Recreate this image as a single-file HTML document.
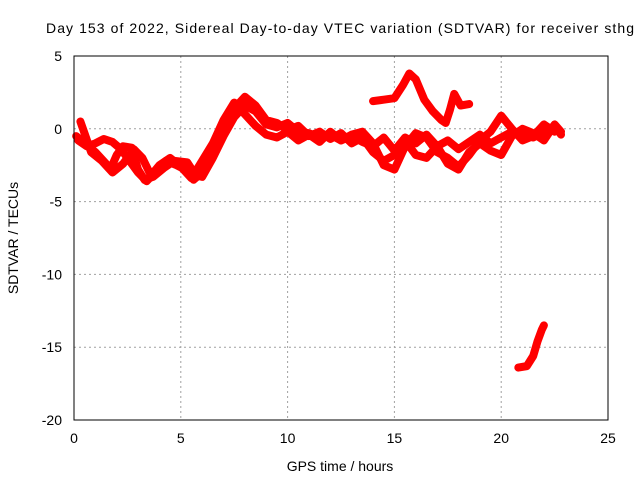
<!DOCTYPE html>
<html><head><meta charset="utf-8"><style>
html,body{margin:0;padding:0;background:#fff}
svg{display:block;font-family:"Liberation Sans",sans-serif}
</style></head><body>
<svg id="chart" width="640" height="480" viewBox="0 0 640 480">
<rect width="640" height="480" fill="#fff"/>
<text x="340" y="33" font-size="14" text-anchor="middle" textLength="588">Day 153 of 2022, Sidereal Day-to-day VTEC variation (SDTVAR) for receiver sthg</text>
<g id="grid"></g>
<g id="series"></g>
<g id="axes"></g>
<text x="18" y="238" font-size="14" text-anchor="middle" transform="rotate(-90 18 238)">SDTVAR / TECUs</text>
<text x="340" y="471" font-size="14" text-anchor="middle">GPS time / hours</text>
</svg>
<script>
const xTicks=[0,5,10,15,20,25];
const yTicks=[5,0,-5,-10,-15,-20];
const track1H=[0.1,0.5,1.0,1.5,1.7,2.0,2.3,2.7,3.0,3.3,3.7,4.2,4.7,5.3,5.7,6.0,6.5,7.0,7.5,8.0,8.5,9.0,9.5,10,10.5,11,11.5,12,12.5,13,13.5,14,14.5,15,15.5,16,16.5,17,17.5,18,18.5,19,19.5,20,20.5,21,21.5,22,22.5,22.8];
const track1V=[-0.5,-1.0,-1.6,-2.4,-2.8,-1.8,-1.2,-1.3,-2.8,-3.5,-3.3,-2.7,-2.2,-2.3,-3.2,-3.3,-2.0,-0.5,0.8,1.6,1.2,0.3,0.1,0.4,-0.2,-0.3,-0.6,-0.4,-0.8,-0.5,-0.9,-1.2,-0.6,-1.5,-0.6,-1.0,-0.4,-1.2,-0.8,-1.4,-0.9,-0.4,-1.0,-0.6,-0.2,-0.4,-0.6,-0.2,0.2,-0.4];
const track2H=[0.2,0.6,1.0,1.4,1.8,2.2,2.6,3.0,3.4,3.8,4.3,4.8,5.2,5.6,6.0,6.5,7.0,7.5,8.0,8.5,9.0,9.5,10,10.5,11,11.5,12,12.5,13,13.5,14,14.5,15,15.5,16,16.5,17,17.5,18,18.5,19,19.5,20,20.5,21,21.5,22,22.5,22.8];
const track2V=[-0.8,-1.2,-1.0,-0.7,-0.9,-1.4,-2.2,-3.0,-3.6,-3.0,-2.2,-2.5,-2.8,-3.5,-3.0,-1.5,0.2,1.4,2.2,1.6,0.6,0.4,-0.1,0.2,-0.5,-0.2,-0.7,-0.3,-1.0,-0.6,-1.6,-2.2,-1.8,-0.8,-1.8,-2.0,-1.2,-2.4,-2.8,-1.6,-1.0,-1.5,-1.8,-0.5,0.0,-0.3,-0.8,0.3,-0.2];
const track3H=[0.3,0.8,1.3,1.8,2.3,2.8,3.2,3.6,4.0,4.5,5.0,5.5,6.0,6.5,7.0,7.5,8.0,8.5,9.0,9.5,10,10.5,11,11.5,12,12.5,13,13.5,14,14.5,15,15.5,16,16.5,17,17.5,18,18.5,19,19.5,20,20.5,21,21.5,22,22.5];
const track3V=[0.5,-1.6,-2.2,-3.0,-2.4,-1.4,-2.0,-3.2,-2.5,-2.0,-2.6,-3.4,-2.2,-1.0,0.6,1.8,1.0,0.2,-0.4,-0.6,-0.2,-0.8,-0.4,-0.9,-0.2,-0.8,-0.4,-0.2,-1.0,-2.5,-2.8,-1.2,-0.3,-0.6,-1.6,-2.0,-2.6,-1.8,-0.8,-0.2,0.9,0.0,-0.8,-0.5,0.3,-0.2];
const upperH=[14.0,14.5,15.0,15.4,15.7,16.0,16.4,16.8,17.2,17.4,17.6,17.8,18.1,18.5];
const upperV=[1.9,2.0,2.1,3.0,3.8,3.4,2.0,1.2,0.6,0.4,1.3,2.4,1.6,1.7];
const lowH=[20.8,21.2,21.5,21.7,21.9,22.0];
const lowV=[-16.4,-16.3,-15.6,-14.6,-13.8,-13.5];

const X=h=>74+h*(534/25);
const Y=v=>56+(5-v)*(364/25);
const NS='http://www.w3.org/2000/svg';
const grid=document.getElementById('grid'),axes=document.getElementById('axes'),ser=document.getElementById('series');
function mk(tag,attrs,parent){const e=document.createElementNS(NS,tag);for(const k in attrs)e.setAttribute(k,attrs[k]);parent.appendChild(e);return e;}
xTicks.forEach(t=>{
  if(t>0&&t<25){const g=mk('line',{x1:X(t),x2:X(t),y1:56,y2:420,stroke:'#a0a0a0','stroke-dasharray':'2,3'},grid);
  
  }
  const l=mk('text',{x:X(t),y:443,'font-size':14,'text-anchor':'middle'},axes);l.textContent=t;
  
  
});
yTicks.forEach(t=>{
  if(t<5&&t>-20){const g=mk('line',{x1:74,x2:608,y1:Y(t),y2:Y(t),stroke:'#a0a0a0','stroke-dasharray':'2,3'},grid);
  
  }
  const l=mk('text',{x:62,y:Y(t)+5,'font-size':14,'text-anchor':'end'},axes);l.textContent=t;
  
  
});
const box=mk('rect',{x:74,y:56,width:534,height:364,fill:'none',stroke:'#000','stroke-width':1},axes);


function track(H,V,name){
  const p=mk('polyline',{points:H.map((h,i)=>X(h)+','+Y(V[i])).join(' '),fill:'none',stroke:'#ff0000','stroke-width':8,'stroke-linejoin':'round','stroke-linecap':'round'},ser);
  
  
}
track(track1H,track1V,'track-1');
track(track2H,track2V,'track-2');
track(track3H,track3V,'track-3');
track(upperH,upperV,'track-upper');
track(lowH,lowV,'track-low');
</script>
</body></html>
